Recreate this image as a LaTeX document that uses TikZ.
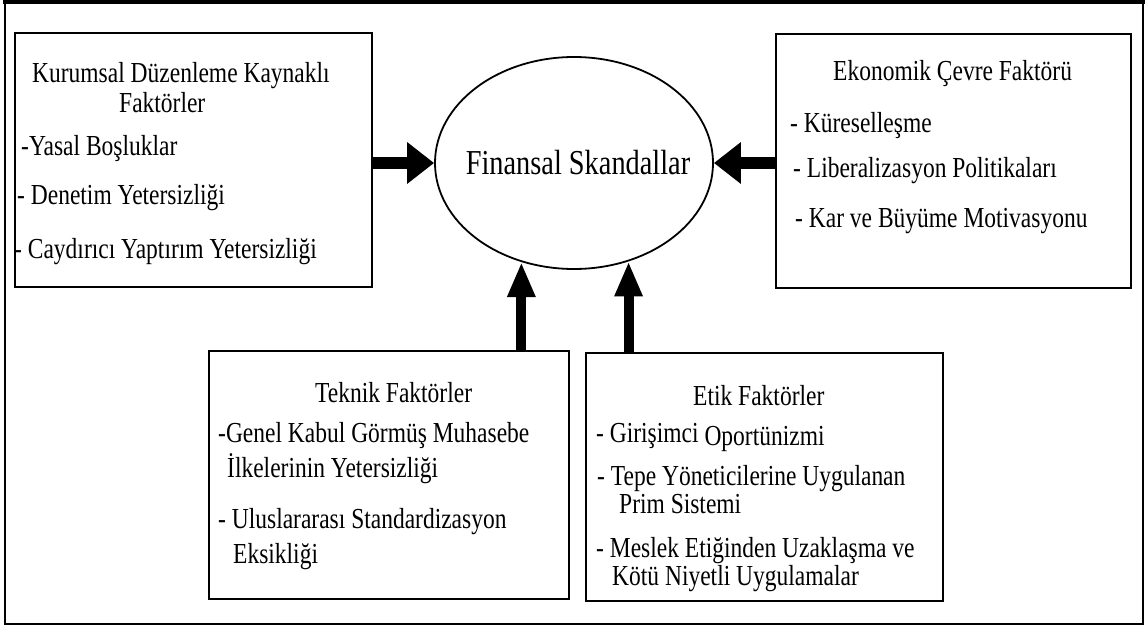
\documentclass[tikz,border=0pt]{standalone}
\usepackage{fontspec}
\setmainfont{Liberation Serif}[FakeStretch=0.81]
\usetikzlibrary{shapes.geometric,arrows.meta}
\begin{document}
\begin{tikzpicture}[x=1pt,y=-1pt,
  box/.style={draw, line width=1.6pt, rectangle, inner sep=0pt},
  txt/.style={anchor=base west, inner sep=0pt, font=\fontsize{29}{32}\selectfont},
  fat/.style={line width=12.5pt, -{Triangle[length=27pt,width=40pt]}},
  slim/.style={line width=10pt, -{Triangle[length=35pt,width=26pt]}}]
\useasboundingbox (0,0) rectangle (1145,626);
% outer frame
\draw[line width=2pt] (5,3) rectangle (1143,623.5);
\draw[line width=4pt] (3,2) -- (1145,2);

% centre
\node[draw, ellipse, line width=1.8pt, minimum width=278pt, minimum height=212pt,
      inner sep=0pt, font=\fontsize{35}{38}\selectfont] (ell) at (574,163)
      {\makebox[0pt]{\hspace{8pt}\raisebox{-4pt}{Finansal Skandallar}}};

% factor boxes
\node[box, minimum width=357pt, minimum height=254pt] (lbox) at (193.5,160) {};
\node[box, minimum width=355pt, minimum height=254pt] (rbox) at (953.5,161) {};
\node[box, minimum width=360pt, minimum height=248pt] (tech) at (389,475) {};
\node[box, minimum width=357pt, minimum height=248pt] (eth)  at (764.5,477) {};

% institutional factors
\node[txt] (l1) at (32,82)  {Kurumsal Düzenleme Kaynaklı};
\node[txt] (l2) at (119,112) {Faktörler};
\node[txt] (l3) at (21,155) {-Yasal Boşluklar};
\node[txt] (l4) at (17,204) {- Denetim Yetersizliği};
\node[txt] (l5) at (14,258) {- Caydırıcı Yaptırım Yetersizliği};

% economic factors
\node[txt] (r1) at (833,80)  {Ekonomik Çevre Faktörü};
\node[txt] (r2) at (790,132) {- Küreselleşme};
\node[txt] (r3) at (793,177) {- Liberalizasyon Politikaları};
\node[txt] (r4) at (795,227) {- Kar ve Büyüme Motivasyonu};

% technical factors
\node[txt] (t1) at (315,402) {Teknik Faktörler};
\node[txt] (t2) at (218,442) {-Genel Kabul Görmüş Muhasebe};
\node[txt] (t3) at (227,477) {İlkelerinin Yetersizliği};
\node[txt] (t4) at (218,528) {- Uluslararası Standardizasyon};
\node[txt] (t5) at (233,563) {Eksikliği};

% ethical factors
\node[txt] (e1) at (693,405) {Etik Faktörler};
\node[txt] (e2) at (596,442) {- Girişimci \raisebox{-3pt}{Oportünizmi}};
\node[txt] (e3) at (597,485) {- Tepe Yöneticilerine Uygulanan};
\node[txt] (e4) at (619,513) {Prim Sistemi};
\node[txt] (e5) at (596,557) {- Meslek Etiğinden Uzaklaşma ve};
\node[txt] (e6) at (612,585) {Kötü Niyetli Uygulamalar};

% arrows into the centre
\draw[fat] (ell.west -| lbox.east) -- (ell.west);
\draw[fat] (ell.east -| rbox.west) -- (ell.east);
\draw[slim] (ell.-118.5 |- tech.north) -- (ell.-118.5);
\draw[slim] (ell.-61 |- eth.north) -- (ell.-61);
\end{tikzpicture}
\end{document}
